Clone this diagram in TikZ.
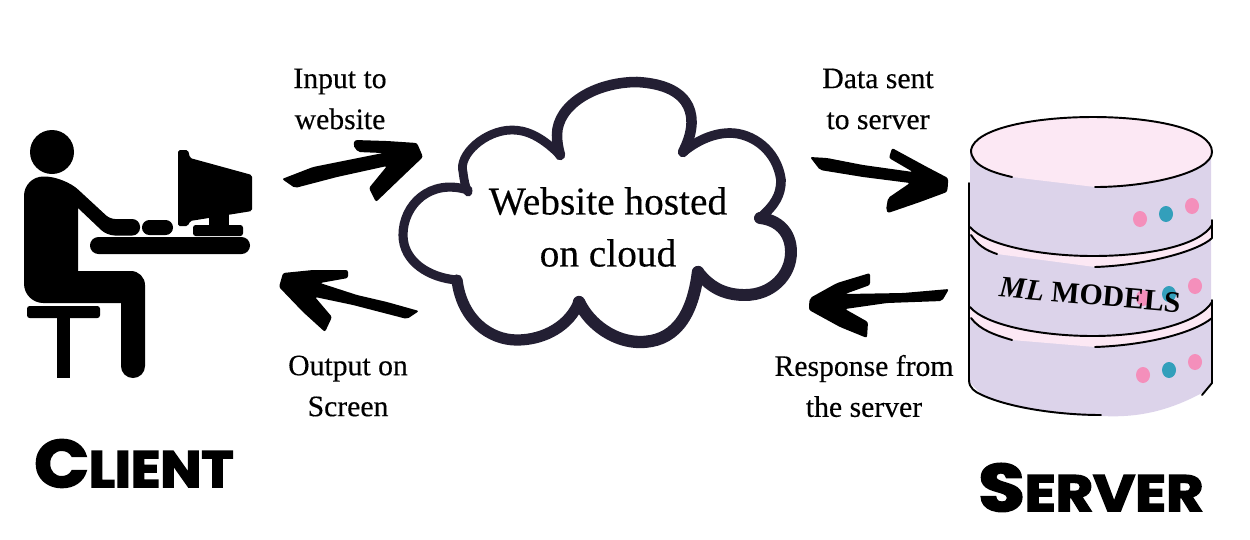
\documentclass[tikz,border=0pt]{standalone}
\usepackage{fontspec}
\usepackage{graphicx}
\usepackage{tikz}
\usetikzlibrary{positioning}
\setmainfont{Liberation Serif}
\newfontfamily\labelfont[FakeBold=0.35]{Liberation Serif}
\newfontfamily\titlefont[BoldFeatures={FakeBold=3}]{Poppins}
\definecolor{cloudink}{HTML}{231F33}
\definecolor{drumbody}{HTML}{DCD3EA}
\definecolor{drumtop}{HTML}{FCE8F4}
\definecolor{ledpink}{HTML}{F48FBB}
\definecolor{ledteal}{HTML}{339FBB}
\tikzset{
	edgelabel/.style={inner sep=0pt, align=center, font=\labelfont\fontsize{16.9}{23.3}\selectfont},
	cloudlabel/.style={inner sep=0pt, align=center, font=\labelfont\fontsize{22.4}{29.6}\selectfont},
	titlelabel/.style={inner sep=0pt, anchor=base, font=\titlefont\bfseries},
	brush/.style={fill=black, rounded corners=1.2pt},
	puff/.style={draw=cloudink, line cap=round, line join=round},
	rim/.style={draw=black, line width=1.1pt, line cap=round},
}
\begin{document}
\begin{tikzpicture}[x=0.02cm, y=-0.02cm]
	\useasboundingbox (0,0) rectangle (1250,539);
	% client at the desk
	\fill (52,152) circle (22);
	\fill (24,240) [rounded corners=11pt] -- (24,176.5) -- (64,176.5) [rounded corners=3pt] -- (110,219)
		[rounded corners=4.4pt] -- (140,219) -- (140,235.5) -- (107,235.5) [sharp corners] -- (78,208) -- (78,271)
		[rounded corners=8pt] -- (145,271) [rounded corners=6.8pt] -- (145,378) -- (121,378) [sharp corners] -- (121,303)
		[rounded corners=11pt] -- (24,303) -- cycle;
	\fill[rounded corners=1.5pt] (27,306) rectangle (100,318);
	\fill (57,316) rectangle (70,378);
	\fill[rounded corners=4.2pt] (142,220) rectangle (173,235);
	\fill[rounded corners=4.8pt] (90,237) rectangle (250,254);
	\fill[rounded corners=1.5pt] (193,225) rectangle (243,236);
	\fill (209,214) rectangle (229,226);
	\fill[rounded corners=1pt] (178,150) -- (188,150) -- (190,158) -- (252,175) -- (252,211)
		-- (190,221) -- (188,226) -- (178,226) -- cycle;

	% cloud
	\draw[puff, line width=5.2pt] (468,190) .. controls (430,178) and (403,205) .. (403,235)
		.. controls (403,262) and (430,278) .. (457,280);
	\draw[puff, line width=6.4pt] (457,280) .. controls (462,320) and (490,340) .. (517,340)
		.. controls (545,340) and (570,325) .. (579,302);
	\draw[puff, line width=7pt] (579,302) .. controls (590,325) and (615,342) .. (640,342)
		.. controls (672,342) and (692,320) .. (698,272);
	\draw[puff, line width=6.8pt] (698,272) .. controls (712,290) and (728,295) .. (745,295)
		.. controls (772,295) and (791,275) .. (791,252) .. controls (791,232) and (778,220) .. (760,218);
	\draw[puff, line width=5.5pt] (760,218) .. controls (775,205) and (781,195) .. (781,180)
		.. controls (777,150) and (752,133) .. (730,133) .. controls (712,133) and (695,142) .. (683,152);
	\draw[puff, line width=6pt] (683,152) .. controls (700,120) and (695,85) .. (637,82)
		.. controls (595,82) and (557,105) .. (557,135) .. controls (557,142) and (558,148) .. (560,155);
	\draw[puff, line width=5pt] (560,155) .. controls (540,135) and (525,130) .. (512,130)
		.. controls (485,130) and (458,155) .. (463,172) .. controls (464,180) and (465,186) .. (468,192);
	\node[cloudlabel] (cloud) at (608,227) {Website hosted\\on cloud};

	% drum
	\fill[drumbody] (970,150) -- (970,383) -- (982,395) .. controls (1010,408) and (1060,416) .. (1102,416)
		.. controls (1140,418) and (1170,410) .. (1202,393) -- (1211,383) -- (1211,150) -- cycle;
	\fill[drumtop] (971,150) .. controls (975,128) and (1035,117) .. (1093,117) .. controls (1150,117) and (1212,128) .. (1212,152)
		.. controls (1212,172) and (1150,187) .. (1095,187) -- (1012,177) .. controls (990,172) and (971,165) .. cycle;
	\fill[drumtop] (970,227) .. controls (985,245) and (1040,256) .. (1093,256) .. controls (1150,256) and (1200,245) .. (1212,225)
		-- (1212,238) .. controls (1200,250) and (1150,267) .. (1095,267) -- (997,254) .. controls (985,250) and (975,243) .. (970,235) -- cycle;
	\fill[drumtop] (970,307) .. controls (985,325) and (1040,336) .. (1093,336) .. controls (1150,336) and (1200,322) .. (1212,302)
		-- (1212,318) .. controls (1195,330) and (1150,347) .. (1095,347) -- (1012,340) .. controls (990,335) and (978,328) .. (970,318) -- cycle;
	\draw[rim] (1012,177) .. controls (990,172) and (971,165) .. (971,150) .. controls (975,128) and (1035,117) .. (1093,117)
		.. controls (1150,117) and (1212,128) .. (1212,152) .. controls (1212,172) and (1150,187) .. (1095,187);
	\draw[rim] (969,183) -- (969,380) .. controls (969,388) and (975,392) .. (982,395) .. controls (1010,408) and (1060,415) .. (1101,415);
	\draw[rim] (1212,220) -- (1212,238);
	\draw[rim] (1212,300) -- (1212,383) -- (1202,395);
	\draw[rim] (970,227) .. controls (985,245) and (1040,256) .. (1093,256) .. controls (1150,256) and (1200,245) .. (1212,225);
	\draw[rim] (971,235) .. controls (978,245) and (985,250) .. (997,254);
	\draw[rim] (1095,267) .. controls (1150,265) and (1200,250) .. (1212,238);
	\draw[rim] (970,307) .. controls (985,325) and (1040,336) .. (1093,336) .. controls (1150,336) and (1200,322) .. (1212,302);
	\draw[rim] (971,318) .. controls (980,330) and (995,335) .. (1012,340);
	\draw[rim] (1095,347) .. controls (1150,345) and (1195,332) .. (1212,318);
	\foreach \ledx/\ledy/\ledcol in {1140/219/ledpink, 1166/214/ledteal, 1192/206/ledpink,
		1143/298/ledpink, 1169/294/ledteal, 1195/286/ledpink,
		1143/375/ledpink, 1169/370/ledteal, 1195/362/ledpink}
		\fill[\ledcol] (\ledx,\ledy) ellipse [x radius=7, y radius=8];
	\node[inner sep=0pt, rotate=-5, font=\fontsize{17}{17}\selectfont\bfseries] (models) at (1090,295) {\textit{ML} MODELS};

	% brush arrows
	\coordinate (inputtail) at (282,179);
	\coordinate (inputtip) at (423,157);
	\coordinate (outputtail) at (419,311);
	\coordinate (outputtip) at (279,287);
	\coordinate (datatail) at (810,157);
	\coordinate (datatip) at (948,185);
	\coordinate (responsetail) at (949,289);
	\coordinate (responsetip) at (809,304);
	\fill[brush] (inputtail) -- (313,167) -- (383,153) -- (358,152) -- (353,145) -- (355,140) -- (387,141) -- (417,143)
		-- (inputtip) -- (402,177) -- (376,202) -- (369,188) -- (387,166) -- (337,177) -- (295,188) -- cycle;
	\fill[brush] (outputtail) -- (407,319) -- (353,305) -- (315,297) -- (332,317) -- (325,332) -- (303,312)
		-- (outputtip) -- (283,273) -- (313,270) -- (348,270) -- (348,278) -- (320,283) -- (357,295) -- (387,302) -- cycle;
	\fill[brush] (datatail) -- (820,170) -- (863,177) -- (910,183) -- (888,198) -- (886,210) -- (888,213) -- (920,202)
		-- (947,192) -- (datatip) -- (948,178) -- (927,167) -- (892,148) -- (889,158) -- (913,172) -- (863,165) -- (827,158) -- cycle;
	\fill[brush] (responsetail) -- (942,301) -- (887,303) -- (845,309) -- (868,322) -- (867,338) -- (840,327)
		-- (809,310) -- (responsetip) -- (810,298) -- (837,283) -- (870,273) -- (870,285) -- (845,294) -- (903,293) -- cycle;

	\node[edgelabel] (inputlabel) at (340,99) {Input to\\website};
	\node[edgelabel] (outputlabel) at (348,386) {Output on\\Screen};
	\node[edgelabel] (datalabel) at (878,99) {Data sent\\to server};
	\node[edgelabel] (responselabel) at (864,386) {Response from\\the server};

	\node[titlelabel] (clienttitle) at (134,487) {\scalebox{1.07}[1]{\fontsize{38}{38}\selectfont C\fontsize{29}{29}\selectfont LIENT}};
	\node[titlelabel] (servertitle) at (1091,511) {\scalebox{1.126}[1]{\fontsize{38}{38}\selectfont S\fontsize{29}{29}\selectfont ERVER}};
\end{tikzpicture}
\end{document}
